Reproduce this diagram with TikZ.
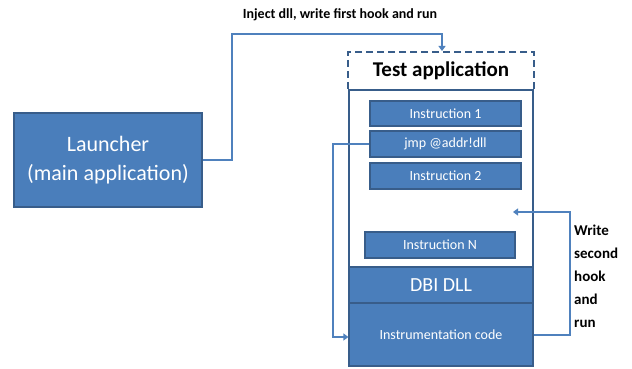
\documentclass[tikz,border=0pt]{standalone}
\usepackage{fontspec}
\setmainfont{Carlito}
\usetikzlibrary{arrows.meta}
\definecolor{boxfill}{HTML}{4A7EBB}
\definecolor{boxline}{HTML}{385D8A}
\definecolor{conn}{HTML}{4F81BD}
\begin{document}
\begin{tikzpicture}[x=1pt,y=-1pt,
  bluebox/.style={draw=boxline,line width=1.2pt,fill=boxfill,text=white,inner sep=0pt,align=center},
  instr/.style={bluebox,minimum width=151pt,minimum height=25pt,font=\fontsize{14}{16}\selectfont},
  connector/.style={draw=conn,line width=2pt,-{Triangle[length=5pt,width=7pt]}},
  lbl/.style={font=\bfseries\fontsize{14}{16}\selectfont,inner sep=0pt}]
\useasboundingbox (0,0) rectangle (632,369);
% Launcher
\node[bluebox,minimum width=188pt,minimum height=94pt,font=\fontsize{22}{29}\selectfont] (launcher) at (108,160) {Launcher\\(main application)};
% Test application header (dashed)
\node[draw=boxline,dashed,dash pattern=on 7pt off 4pt,line width=2pt,minimum width=186pt,minimum height=38pt,inner sep=0pt,font=\bfseries\fontsize{21}{24}\selectfont] (test) at (441,71) {\raisebox{-6pt}{Test application}};
% white body
\node[draw=boxline,line width=2.4pt,fill=white,minimum width=184pt,minimum height=177pt,inner sep=0pt] (body) at (441,178.5) {};
\node[instr] (i1) at (445.5,113.5) {Instruction 1};
\node[instr,minimum height=26pt] (jmp) at (445.5,144) {jmp @addr!dll};
\node[instr,minimum height=26pt] (i2) at (445.5,176) {Instruction 2};
\node[instr,minimum width=150pt,minimum height=26pt] (iN) at (440,245) {Instruction N};
% DBI DLL
\node[bluebox,minimum width=184pt,minimum height=36pt,font=\fontsize{20}{24}\selectfont] (dbi) at (441,285) {DBI DLL};
\node[bluebox,minimum width=184pt,minimum height=63pt,font=\fontsize{14}{16}\selectfont] (code) at (441,334.5) {Instrumentation code};
% connectors
\coordinate (inj) at (442,34);
\draw[connector] (launcher.east) -- (232,160) |- (inj) -- (inj |- test.north);
\node[lbl] (injlbl) at (340,15) {Inject dll, write first hook and run};
\coordinate (loop) at (333,144);
\draw[connector] (jmp.west) -- (loop) |- (code.west |- 0,337);
\coordinate (hookend) at (513,212);
\draw[connector] (code.east |- 0,335) -| (570,212) -- (hookend);
\node[lbl,font=\bfseries\fontsize{15}{23}\selectfont,align=left,anchor=north west] (hooklbl) at (574,225) {Write\\second\\hook\\and\\run};
\end{tikzpicture}
\end{document}
